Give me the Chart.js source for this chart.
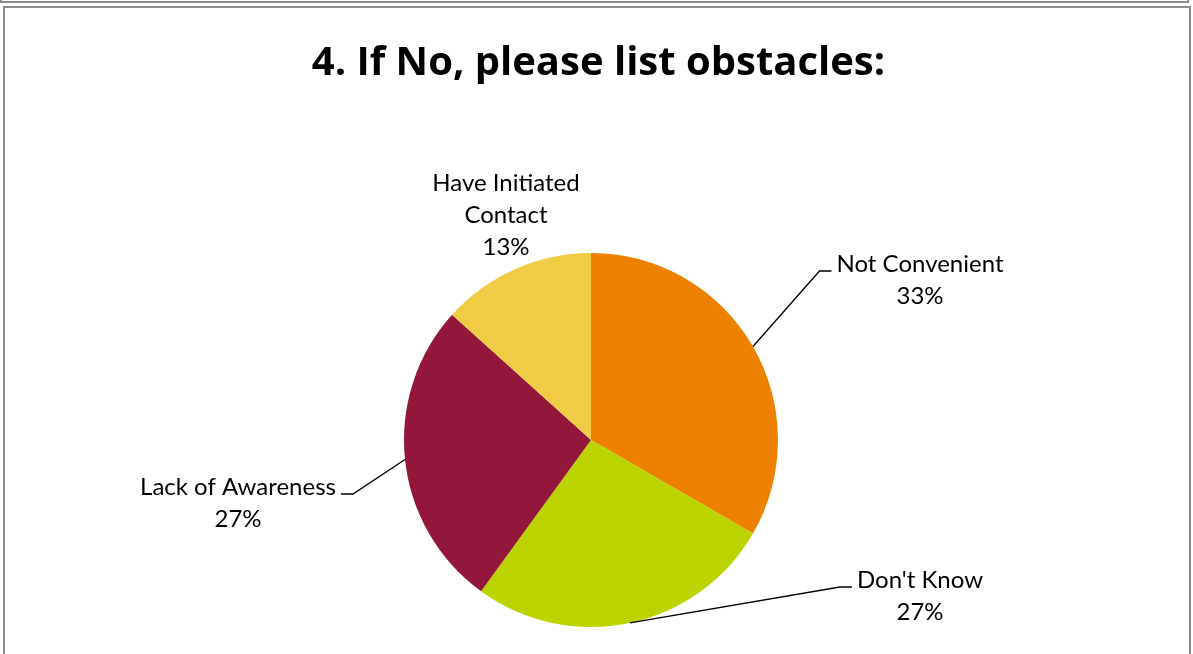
<!DOCTYPE html>
<html>
<head>
<meta charset="utf-8">
<script src="https://cdn.jsdelivr.net/npm/chart.js@4.4.1/dist/chart.umd.min.js"></script>
<style>
  html, body { margin: 0; padding: 0; background: #fff; }
  body { width: 1193px; height: 654px; position: relative; overflow: hidden; }
  #prevBox { position: absolute; left: 0; top: -10px; width: 1189px; height: 13px; border: 2px solid #8c8c8c; box-sizing: border-box; }
  #box { position: absolute; left: 3px; top: 6px; width: 1188px; height: 700px; border: 2px solid #8c8c8c; box-sizing: border-box; }
  #wrap { position: absolute; left: 0; top: 0; width: 1193px; height: 654px; }
  #title { position: absolute; left: 0; top: 40px; width: 1193px; padding-left: 4px; box-sizing: border-box;
           text-align: center; font-family: 'Open Sans', sans-serif; font-weight: 700; font-size: 40px; line-height: 40px;
           color: #000; white-space: nowrap; z-index: 2; }
</style>
</head>
<body>
<div id="prevBox"></div>
<div id="box"></div>
<div id="wrap"><canvas id="pieChart"></canvas></div>
<div id="title"></div>
<script>
// chart data
var chartTitle = "4. If No, please list obstacles:";
var categories = ["Not Convenient", "Don't Know", "Lack of Awareness", "Have Initiated Contact"];
var counts = [5, 4, 4, 2];
var sliceColors = ["#EE8100", "#BBD400", "#92173A", "#F0CB45"];

// label layout (offsets from pie centre), label lines split for wrapping
var labelLines = [["Not Convenient"], ["Don't Know"], ["Lack of Awareness"], ["Have Initiated", "Contact"]];
var labelOffsets = [[329, -176], [329, 140], [-353, 47], [-85, -257]];
var hasLeader = [true, true, true, false];

var labelFont = "24px Lato";

document.getElementById("title").textContent = chartTitle;

var labelPlugin = {
    id: 'pieLabels',
    afterDraw: function(chart){
        var ctx = chart.ctx;
        var meta = chart.getDatasetMeta(0);
        var total = counts.reduce( (a, b) => a + b );
        ctx.save();
        ctx.font = labelFont;
        ctx.fillStyle = "#000";
        ctx.strokeStyle = "#000";
        ctx.lineWidth = 1.3;
        ctx.textAlign = "center";
        ctx.textBaseline = "middle";
        meta.data.forEach(function(arc, i){
            var cx = arc.x, cy = arc.y;
            var lines = labelLines[i].concat([Math.round(counts[i] / total * 100) + "%"]);
            var lx = cx + labelOffsets[i][0];
            var ly = cy + labelOffsets[i][1];
            var lh = 32;
            lines.forEach(function(t, k){
                ctx.fillText(t, lx, ly + k * lh);
            });
            if(hasLeader[i]){
                var mid = (arc.startAngle + arc.endAngle) / 2;
                var ex = cx + Math.cos(mid) * arc.outerRadius;
                var ey = cy + Math.sin(mid) * arc.outerRadius;
                var w = ctx.measureText(lines[0]).width;
                var side = lx > cx ? -1 : 1;
                var sx = lx + side * (w / 2 + 5);
                var sy = ly + 7;
                var bx = sx + side * 12;
                ctx.beginPath();
                ctx.moveTo(ex, ey);
                ctx.lineTo(bx, sy);
                ctx.lineTo(sx, sy);
                ctx.stroke();
            }
        });
        ctx.restore();
    }
};

var target = document.getElementById("pieChart");
var pie = new Chart(target, {
    type: 'pie',
    data: {
        labels: categories,
        datasets: [{
            data: counts,
            backgroundColor: sliceColors,
            borderWidth: 0
        }]
    },
    options: {
        responsive: true,
        maintainAspectRatio: false,
        animation: false,
        layout: { padding: { left: 404, right: 415, top: 253, bottom: 27 } },
        plugins: {
            legend: { display: false },
            tooltip: { enabled: false },
            title: { display: false }
        }
    },
    plugins: [labelPlugin]
});
</script>
</body>
</html>
